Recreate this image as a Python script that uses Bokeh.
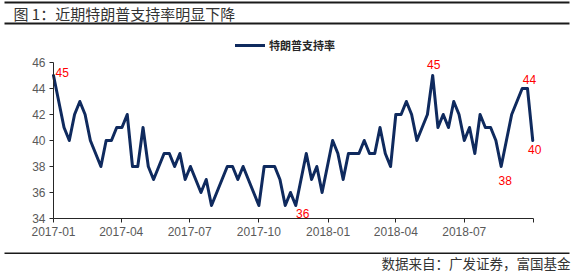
import pandas as pd
from bokeh.plotting import figure
from bokeh.models import (ColumnDataSource, FixedTicker, DatetimeTickFormatter, Label,
                          Legend, LegendItem, BoxAnnotation, Range1d)
from bokeh.core.properties import value
from bokeh.embed import file_html
from bokeh.resources import INLINE

title_text = "图 1：近期特朗普支持率明显下降"
source_text = "数据来自：广发证券，富国基金"
series_name = "特朗普支持率"

# weekly approval (%) starting 2017-01-01
approval = [45, 43, 41, 40, 42, 43, 42, 40, 39, 38,
            40, 40, 41, 41, 42, 38, 38, 41, 38, 37,
            38, 39, 39, 38, 39, 37, 38, 37, 36, 37,
            35, 36, 37, 38, 38, 37, 38, 37, 36, 35,
            38, 38, 38, 37, 35, 36, 35, 37, 39, 37,
            38, 36, 38, 40, 39, 37, 39, 39, 39, 40,
            39, 39, 41, 39, 38, 42, 42, 43, 42, 40,
            41, 42, 45, 41, 42, 41, 43, 42, 40, 41,
            39, 42, 41, 41, 40, 38, 40, 42, 43, 44,
            44, 40]
dates = pd.date_range("2017-01-01", periods=len(approval), freq="7D")

y_min, y_max = 34, 46
y_ticks = [34, 36, 38, 40, 42, 44, 46]
x_first, x_last = "2017-01-01", "2018-10-01"
x_tick_dates = ["2017-01-01", "2017-04-01", "2017-07-01", "2017-10-01",
                "2018-01-01", "2018-04-01", "2018-07-01", "2018-10-01"]

label_idx = [0, 46, 72, 85, 90, 91]
label_txt = ["45", "36", "45", "38", "44", "40"]
# styling for labels (screen offsets / alignment)
label_dx = [2, 7, 1, 4, 2, 2]
label_dy = [-3, 7.5, -11, 14, -9, 8.5]
label_align = ["left", "center", "center", "center", "center", "center"]

def ms(d):
    return pd.Timestamp(d).value // 10**6

# layout of the plotting area inside the 575x272 canvas
W, H = 575, 272
AX_L, AX_R, AX_T, AX_B = 53, 533, 62, 218
t0, t1 = pd.Timestamp(x_first), pd.Timestamp(x_last)
per_px = (t1 - t0) / (AX_R - AX_L)
x_start = t0 - per_px * AX_L
x_end = t1 + per_px * (W - AX_R)
u_px = (y_max - y_min) / (AX_B - AX_T)
y_lo = y_min - u_px * (H - AX_B)
y_hi = y_max + u_px * AX_T

src = ColumnDataSource(dict(date=dates, val=approval))
lab_src = ColumnDataSource(dict(
    date=[dates[i] for i in label_idx],
    val=[approval[i] for i in label_idx],
    txt=label_txt, dx=label_dx, dy=label_dy, al=label_align))

p = figure(width=W, height=H, x_axis_type="datetime", output_backend="svg",
           toolbar_location=None,
           x_range=Range1d(x_start, x_end), y_range=Range1d(y_lo, y_hi),
           min_border=0)
p.outline_line_color = None
p.xgrid.visible = False
p.ygrid.visible = False
p.background_fill_color = "white"
p.border_fill_color = "white"

line_r = p.line(x="date", y="val", source=src, line_width=3, line_color="#0F2A5E",
                line_join="round", line_cap="round")

p.text(x="date", y="val", text="txt", source=lab_src, x_offset="dx", y_offset="dy",
       text_align="al", text_baseline="middle", text_color="#FF0000",
       text_font=value("Liberation Sans"), text_font_size="12px")

axis_color = "#262626"
tick_color = "#595959"
for ax in (p.xaxis[0], p.yaxis[0]):
    ax.axis_line_color = axis_color
    ax.major_tick_line_color = axis_color
    ax.major_tick_out = 4
    ax.major_tick_in = 0
    ax.minor_tick_out = 0
    ax.minor_tick_in = 0
    ax.major_label_text_font = "Liberation Sans"
    ax.major_label_text_font_size = "12px"
    ax.major_label_text_color = tick_color
    ax.major_label_standoff = 4

p.yaxis[0].ticker = FixedTicker(ticks=y_ticks)
p.yaxis[0].bounds = (y_min, y_max)
p.yaxis[0].fixed_location = ms(x_first)
p.xaxis[0].ticker = FixedTicker(ticks=[ms(d) for d in x_tick_dates])
p.xaxis[0].bounds = (ms(x_first), ms(x_last))
p.xaxis[0].fixed_location = y_min
fmt = "%Y-%m"
p.xaxis[0].formatter = DatetimeTickFormatter(days=fmt, months=fmt, years=fmt, hours=fmt,
                                             minutes=fmt, seconds=fmt, milliseconds=fmt,
                                             microseconds=fmt, minsec=fmt, hourmin=fmt)
p.xaxis[0].major_label_overrides = {ms(x_tick_dates[-1]): ""}

legend = Legend(items=[LegendItem(label=series_name, renderers=[line_r])],
                location=(235, H - 45 - 8), glyph_width=30, glyph_height=12,
                label_text_font="Noto Sans CJK SC", label_text_font_size="11px",
                label_text_font_style="bold", label_text_color="#262626",
                padding=0, margin=0, spacing=0, label_standoff=4,
                border_line_alpha=0, background_fill_alpha=0)
p.add_layout(legend)

p.add_layout(Label(x=13, y=H - 13, x_units="screen", y_units="screen",
                   text=title_text, text_font="Noto Sans CJK SC", text_font_size="15px",
                   text_color="#333333", text_baseline="middle", text_align="left"))
p.add_layout(Label(x=570, y=H - 262, x_units="screen", y_units="screen",
                   text=source_text, text_font="Noto Sans CJK SC", text_font_size="13.5px",
                   text_color="#333333", text_baseline="middle", text_align="right"))

for (y0, y1) in [(1, 3), (22, 24), (252, 253.5)]:
    p.add_layout(BoxAnnotation(left=4, right=569, top=H - y0, bottom=H - y1,
                               left_units="screen", right_units="screen",
                               top_units="screen", bottom_units="screen",
                               fill_color="#1a1a1a", fill_alpha=1, line_alpha=0))

open("out.html", "w").write(file_html(p, INLINE))
